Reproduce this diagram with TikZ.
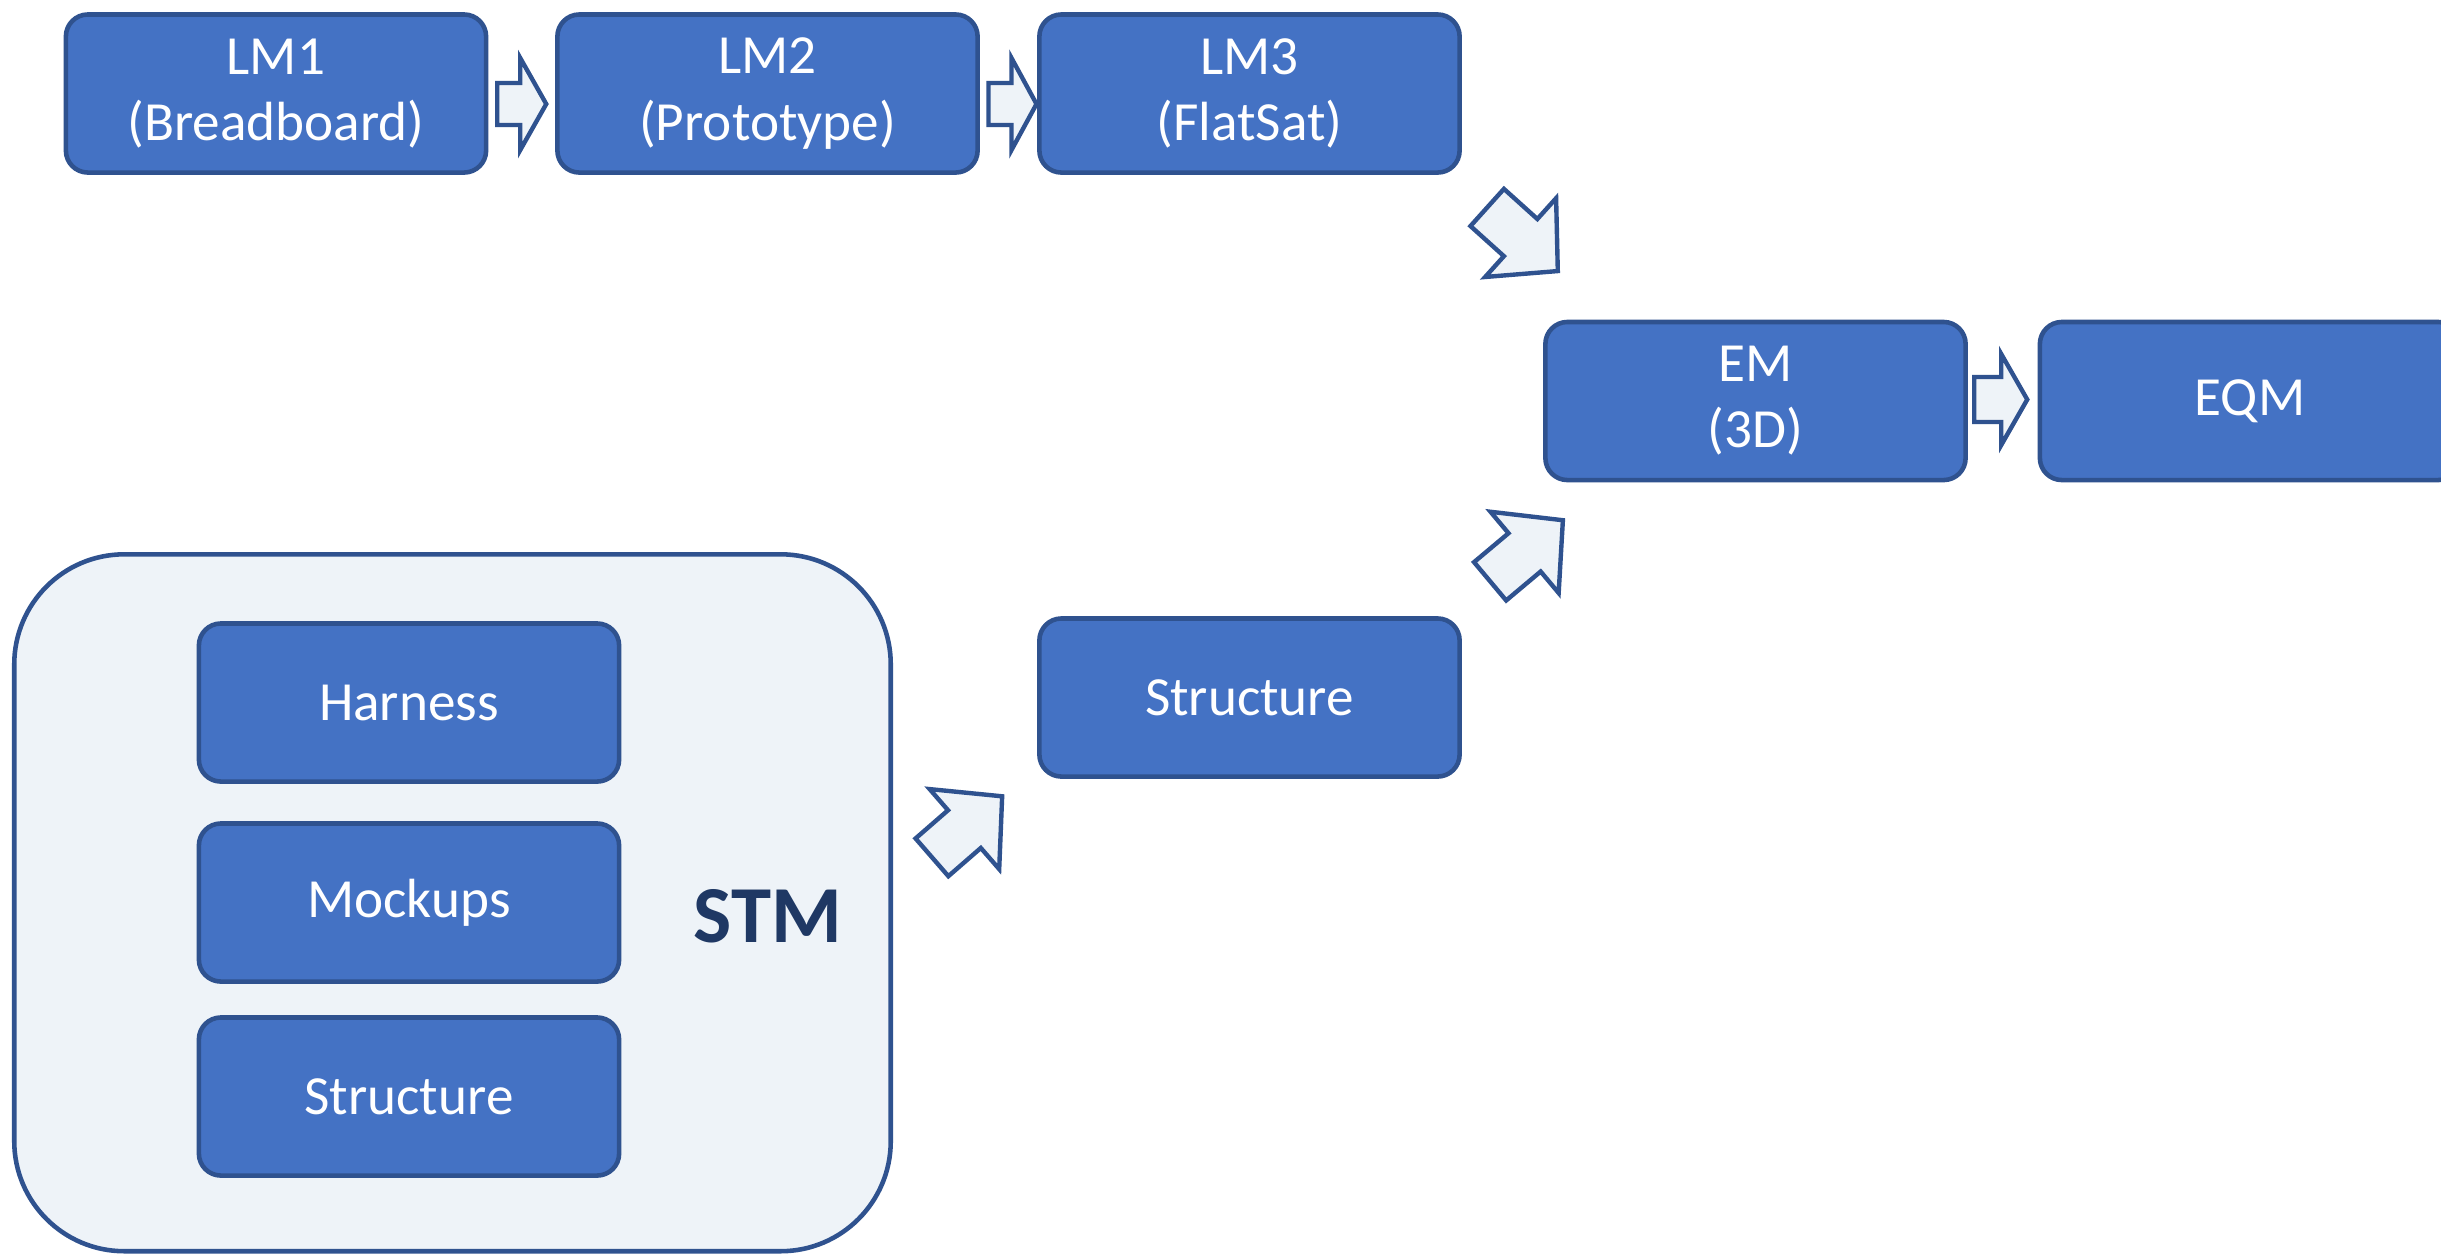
\documentclass[tikz,border=0pt]{standalone}
\usepackage{fontspec}
\setmainfont{Carlito}
\usetikzlibrary{calc}

\definecolor{boxfill}{HTML}{4472C4}
\definecolor{boxline}{HTML}{2F528F}
\definecolor{paleblue}{HTML}{EEF3F8}
\definecolor{navy}{HTML}{1F3864}

\tikzset{
  model/.style={draw=boxline, fill=boxfill, line width=1.3pt,
    rounded corners=0.22cm, minimum width=4.2cm, minimum height=1.58cm,
    inner sep=0pt, align=center, text=white,
    font=\fontsize{15.7}{18.8}\selectfont},
  group/.style={draw=boxline, fill=paleblue, line width=1.3pt,
    rounded corners=1.1cm, minimum width=8.76cm, minimum height=6.965cm,
    inner sep=0pt},
  grouplabel/.style={text=navy, inner sep=0pt,
    font=\fontsize{23}{27}\selectfont\bfseries},
  blockarr/.style={draw=boxline, fill=paleblue, line width=1.25pt,
    line join=miter},
}

% block arrow: centre, angle, length, shaft half-width, head half-width, head length
\newcommand\blockarrow[6]{%
  \draw[blockarr, shift={(#1)}, rotate=#2]
    ({-#3/2},{-#4}) -- ({#3/2-#6},{-#4}) -- ({#3/2-#6},{-#5}) -- ({#3/2},0)
    -- ({#3/2-#6},{#5}) -- ({#3/2-#6},{#4}) -- ({-#3/2},{#4}) -- cycle;}

\begin{document}
\begin{tikzpicture}[x=0.01cm, y=-0.01cm]
  \useasboundingbox (0,0) rectangle (2441,1253);
  \fill[white] (0,0) rectangle (2441,1253);
  \clip (0,0) rectangle (2441,1253);

  % laboratory models
  \node[model] (lm1) at (276,93.5)    {LM1\\(Breadboard)};
  \node[model] (lm2) at (767.5,93.5)  {LM2\\(Prototype)};
  \node[model] (lm3) at (1249.5,93.5) {LM3\\(FlatSat)};

  % engineering models
  \node[model] (em)  at (1755.5,401) {EM\\(3D)};
  \node[model] (eqm) at (2250,401)   {EQM};

  % structural thermal model
  \node[group] (stm) at (452.5,902.75) {};
  \node[model] (harness) at (409,702.5)  {Harness};
  \node[model] (mockups) at (409,902.5)  {Mockups};
  \node[model] (stmstr)  at (409,1096.5) {Structure};
  \node[grouplabel] (stmlabel) at (768,916) {STM};

  \node[model] (str) at (1249.5,697.5) {Structure};

  % flow arrows
  \coordinate (a1) at ($($(lm1.east)!0.5!(lm2.west)$)+(0,10.5)$);
  \coordinate (a2) at ($($(lm2.east)!0.5!(lm3.west)$)+(4,10.5)$);
  \coordinate (a3) at ($($(em.east)!0.5!(eqm.west)$)+(-2,-1.5)$);
  \coordinate (d1) at ($($(lm3.south east)!0.5!(em.north west)$)+(20,-8)$);
  \coordinate (d2) at ($($(em.south west)!0.5!(str.north east)$)+(24,1.5)$);
  \coordinate (d3) at ($($(stm.east)!0.5!(str.south west)$)+(2,-14)$);

  \blockarrow{a1}{0}{49}{21}{46}{26}
  \blockarrow{a2}{0}{48}{21}{46}{25}
  \blockarrow{a3}{0}{53}{22.5}{45.5}{26}
  \blockarrow{d1}{-42}{95}{25}{53}{50}
  \blockarrow{d2}{40}{95}{25}{53}{50}
  \blockarrow{d3}{41}{93}{25}{53}{50}
\end{tikzpicture}
\end{document}
